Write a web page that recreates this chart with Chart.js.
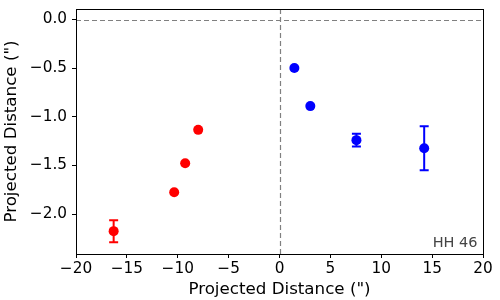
<!DOCTYPE html>
<html>
<head>
<meta charset="utf-8">
<script src="https://cdn.jsdelivr.net/npm/chart.js@4.4.1/dist/chart.umd.min.js"></script>
<style>
  html, body { margin: 0; padding: 0; background: #fff; }
  #wrap { width: 500px; height: 300px; }
</style>
</head>
<body>
<div id="wrap"><canvas id="plot" width="500" height="300"></canvas></div>
<script>
// datos
const redX = [-16.3, -10.35, -9.27, -7.99];
const redY = [-2.175, -1.776, -1.477, -1.134];
const redErr = [0.113, 0, 0, 0];

const blueX = [1.46, 3.03, 7.56, 14.22];
const blueY = [-0.498, -0.890, -1.240, -1.323];
const blueErr = [0, 0, 0.065, 0.227];

const xTicks = [-20, -15, -10, -5, 0, 5, 10, 15, 20];
const yTicks = [-2.0, -1.5, -1.0, -0.5, 0.0];
const axisLabel = 'Projected Distance (")';
const tag = 'HH 46';

const tickFont = { family: 'DejaVu Sans', size: 15.3 };
const labelFont = { family: 'DejaVu Sans', size: 16.7 };
const minus = s => s.replace('-', '\u2212');

function points(xs, ys, errs) {
  return xs.map((x, i) => ({ x: x, y: ys[i], err: errs[i] }));
}

// lineas punteadas en cero, caja y barras de error
const extras = {
  id: 'extras',
  beforeDatasetsDraw(chart) {
    const { ctx, chartArea: a, scales: { x, y } } = chart;
    ctx.save();
    ctx.strokeStyle = '#808080';
    ctx.lineWidth = 1.2;
    ctx.setLineDash([5, 3]);
    const x0 = Math.round(x.getPixelForValue(0)) + 0.5;
    const y0 = Math.round(y.getPixelForValue(0)) + 0.5;
    ctx.beginPath();
    ctx.moveTo(x0, a.top); ctx.lineTo(x0, a.bottom);
    ctx.moveTo(a.left, y0); ctx.lineTo(a.right, y0);
    ctx.stroke();
    ctx.setLineDash([]);

    chart.data.datasets.forEach(ds => {
      ctx.strokeStyle = ds.backgroundColor;
      ctx.lineWidth = 2;
      ds.data.forEach(p => {
        if (!p.err) return;
        const px = x.getPixelForValue(p.x);
        const hi = y.getPixelForValue(p.y + p.err);
        const lo = y.getPixelForValue(p.y - p.err);
        ctx.beginPath();
        ctx.moveTo(px, hi); ctx.lineTo(px, lo);
        ctx.moveTo(px - 4.5, hi); ctx.lineTo(px + 4.5, hi);
        ctx.moveTo(px - 4.5, lo); ctx.lineTo(px + 4.5, lo);
        ctx.stroke();
      });
    });
    ctx.restore();
  },
  afterDraw(chart) {
    const { ctx, chartArea: a } = chart;
    ctx.save();
    ctx.strokeStyle = '#000';
    ctx.lineWidth = 1;
    ctx.strokeRect(Math.round(a.left) + 0.5, Math.round(a.top) + 0.5,
                   Math.round(a.right - a.left), Math.round(a.bottom - a.top));
    ctx.fillStyle = '#444444';
    ctx.font = '14.5px "DejaVu Sans"';
    ctx.textAlign = 'right';
    ctx.textBaseline = 'alphabetic';
    ctx.fillText(tag, a.right - 5.5, a.bottom - 7.5);
    ctx.restore();
  }
};

new Chart(document.getElementById('plot'), {
  type: 'scatter',
  data: {
    datasets: [
      { data: points(redX, redY, redErr), backgroundColor: '#ff0000', borderWidth: 0, pointRadius: 5 },
      { data: points(blueX, blueY, blueErr), backgroundColor: '#0000ff', borderWidth: 0, pointRadius: 5 }
    ]
  },
  options: {
    responsive: false,
    animation: false,
    layout: { padding: { top: 9, right: 17, left: 0, bottom: 0 } },
    plugins: { legend: { display: false }, tooltip: { enabled: false } },
    scales: {
      x: {
        type: 'linear',
        min: -20, max: 20,
        afterBuildTicks: s => { s.ticks = xTicks.map(v => ({ value: v })); },
        afterFit: s => { s.height = 46; s.paddingLeft = 0; s.paddingRight = 0; },
        grid: { drawOnChartArea: false, tickLength: 4, color: '#000' },
        border: { color: '#000' },
        ticks: { color: '#000', font: tickFont, padding: 2, maxRotation: 0,
                 callback: v => minus(String(v)) },
        title: { display: true, text: axisLabel, color: '#000', font: labelFont, padding: { top: 0, bottom: 0 } }
      },
      y: {
        type: 'linear',
        min: -2.41, max: 0.108,
        afterBuildTicks: s => { s.ticks = yTicks.map(v => ({ value: v })); },
        afterFit: s => { s.width = 76; s.paddingTop = 0; s.paddingBottom = 0; },
        grid: { drawOnChartArea: false, tickLength: 4, color: '#000' },
        border: { color: '#000' },
        ticks: { color: '#000', font: tickFont, padding: 5,
                 callback: v => minus(v.toFixed(1)) },
        title: { display: true, text: axisLabel, color: '#000', font: labelFont, padding: { top: 2, bottom: 0 } }
      }
    }
  },
  plugins: [extras]
});
</script>
</body>
</html>
